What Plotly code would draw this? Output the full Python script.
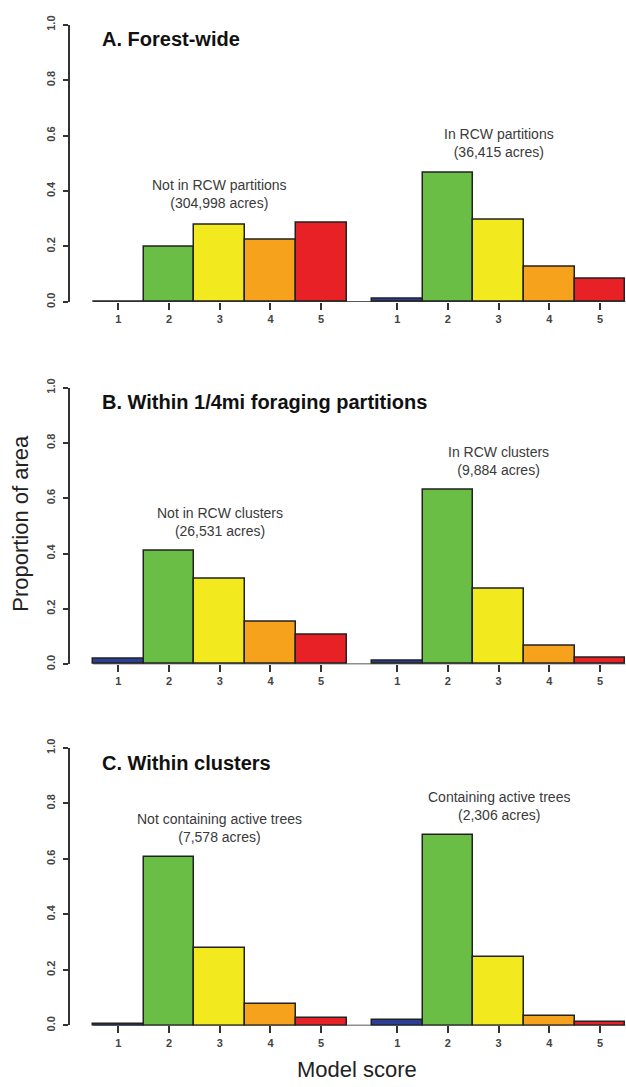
import plotly.graph_objects as go

# ---------------- data ----------------
scores = ["1", "2", "3", "4", "5"]
colors = ["#2b3f94", "#6abd45", "#f2ea1e", "#f6a21d", "#e82127"]

panel_titles = ["A. Forest-wide",
                "B. Within 1/4mi foraging partitions",
                "C. Within clusters"]

group_labels_a = ["Not in RCW partitions<br>(304,998 acres)",
                  "In RCW partitions<br>(36,415 acres)"]
group_labels_b = ["Not in RCW clusters<br>(26,531 acres)",
                  "In RCW clusters<br>(9,884 acres)"]
group_labels_c = ["Not containing active trees<br>(7,578 acres)",
                  "Containing active trees<br>(2,306 acres)"]

a_not_in = [0.002, 0.200, 0.280, 0.223, 0.286]
a_in = [0.013, 0.467, 0.296, 0.125, 0.082]
b_not_in = [0.019, 0.410, 0.310, 0.152, 0.107]
b_in = [0.011, 0.630, 0.274, 0.068, 0.025]
c_not_in = [0.007, 0.606, 0.279, 0.076, 0.027]
c_in = [0.019, 0.685, 0.247, 0.033, 0.012]

y_ticks = [0.0, 0.2, 0.4, 0.6, 0.8, 1.0]

panels = [
    (panel_titles[0], group_labels_a, [a_not_in, a_in]),
    (panel_titles[1], group_labels_b, [b_not_in, b_in]),
    (panel_titles[2], group_labels_c, [c_not_in, c_in]),
]

# ---------------- layout geometry ----------------
W, H = 626, 1087
GAP = 0.5  # space between the two groups, in bar widths
# pixel rows of value 0 and 1 for each panel
rows_px = [(297, 16), (664.3, 384), (1030.7, 749.3)]
axis_px = 70          # y axis line position
bar0_px = 93          # left edge of first bar
bar_w_px = 50.7       # bar width in pixels
x_lo = (axis_px - bar0_px) / bar_w_px
x_hi = (W - bar0_px) / bar_w_px

FONT = "Liberation Sans, Arial, sans-serif"

fig = go.Figure()
annotations = []
shapes = []

for p, (title, glabels, groups) in enumerate(panels):
    sfx = "" if p == 0 else str(p + 1)
    xref, yref = "x" + sfx, "y" + sfx
    tickpos = []
    for g, vals in enumerate(groups):
        pos = [g * (len(scores) + GAP) + i + 0.5 for i in range(len(scores))]
        tickpos += pos
        fig.add_trace(go.Bar(
            x=pos, y=vals, width=1.0,
            marker=dict(color=colors, line=dict(color="#222222", width=1.5)),
            xaxis=xref, yaxis=yref, showlegend=False, hoverinfo="skip"))
        annotations.append(dict(
            x=sum(pos) / len(pos), y=max(vals) + 0.105, xref=xref, yref=yref,
            text=glabels[g], showarrow=False, xanchor="center", yanchor="middle",
            font=dict(family=FONT, size=14, color="#3a3a3a")))
    # baseline
    shapes.append(dict(type="line", xref=xref, yref=yref,
                       x0=tickpos[0] - 0.5, x1=tickpos[-1] + 0.5, y0=0, y1=0,
                       line=dict(color="#222222", width=1.5), layer="above"))
    # title
    annotations.append(dict(
        x=0.14, y=0.947, xref=xref, yref=yref, text="<b>" + title + "</b>",
        showarrow=False, xanchor="left", yanchor="middle",
        font=dict(family=FONT, size=20, color="#111111")))

    y0_px, y1_px = rows_px[p]
    dom = [1 - y0_px / H, 1 - y1_px / H]
    fig.layout["xaxis" + sfx] = dict(
        domain=[axis_px / W, 1], range=[x_lo, x_hi], anchor=yref,
        showgrid=False, zeroline=False, showline=False,
        ticks="outside", ticklen=7, tickwidth=1.5, tickcolor="#333333",
        tickvals=tickpos, ticktext=scores * 2,
        tickfont=dict(family=FONT, size=11, color="#444444", weight="bold"))
    fig.layout["yaxis" + sfx] = dict(
        domain=dom, range=[0, 1], anchor=xref,
        showgrid=False, zeroline=False, showline=True,
        linecolor="#333333", linewidth=1.5,
        ticks="outside", ticklen=5, tickwidth=1.5, tickcolor="#333333",
        tickvals=y_ticks, ticktext=["%.1f" % v for v in y_ticks],
        tickangle=-90, ticklabelstandoff=4,
        tickfont=dict(family=FONT, size=11, color="#444444", weight="bold"))

annotations.append(dict(
    x=21 / W, y=1 - 522 / H, xref="paper", yref="paper",
    text="Proportion of area", textangle=-90, showarrow=False,
    xanchor="center", yanchor="middle",
    font=dict(family=FONT, size=22, color="#222222")))
annotations.append(dict(
    x=357 / W, y=1 - 1075 / H, xref="paper", yref="paper",
    text="Model score", showarrow=False, xanchor="center", yanchor="middle",
    font=dict(family=FONT, size=22, color="#222222")))

fig.update_layout(
    width=W, height=H, margin=dict(l=0, r=0, t=0, b=0),
    paper_bgcolor="white", plot_bgcolor="white",
    annotations=annotations, shapes=shapes, bargap=0)

fig.write_html(
    "out.html",
    config={"displayModeBar": False},
    post_script="document.body.style.margin='0';"
                "document.body.style.overflow='hidden';")
